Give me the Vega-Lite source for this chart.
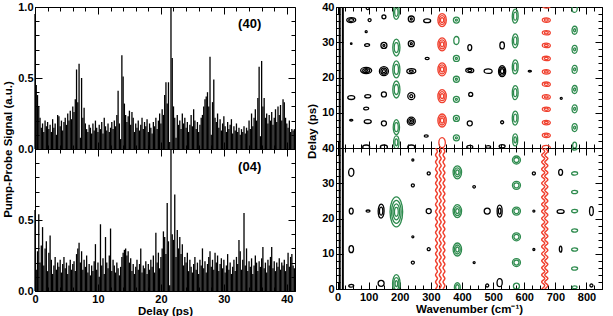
{
"$schema":"https://vega.github.io/schema/vega-lite/v6.json",
"padding":{"left":2,"top":0,"right":4,"bottom":0},
"background":"white",
"config":{"view":{"stroke":"black","strokeWidth":1},"font":"Liberation Sans",
"axis":{"labelFont":"Liberation Sans","labelFontWeight":"bold","labelFontSize":11,"labelColor":"black","titleFont":"Liberation Sans","titleFontWeight":"bold","titleFontSize":11.5,"titleColor":"black","domainColor":"black","tickColor":"black","grid":false,"labelFlush":false,"labelOverlap":false,"labelBound":false,"tickWidth":1,"labelPadding":9}},
"datasets":{
"p40":[{"t":0,"s":0.95},{"t":0.2,"s":0.45},{"t":0.4,"s":0.38},{"t":0.6,"s":0.3},{"t":0.8,"s":0.22},{"t":1,"s":0.15},{"t":1.2,"s":0.18},{"t":1.4,"s":0.12},{"t":1.6,"s":0.2},{"t":1.8,"s":0.16},
{"t":2,"s":0.19},{"t":2.2,"s":0.14},{"t":2.4,"s":0.17},{"t":2.6,"s":0.12},{"t":2.8,"s":0.21},{"t":3,"s":0.15},{"t":3.2,"s":0.18},{"t":3.4,"s":0.1},{"t":3.6,"s":0.24},{"t":3.8,"s":0.23},
{"t":4,"s":0.16},{"t":4.2,"s":0.2},{"t":4.4,"s":0.13},{"t":4.6,"s":0.19},{"t":4.8,"s":0.22},{"t":5,"s":0.17},{"t":5.2,"s":0.25},{"t":5.4,"s":0.2},{"t":5.6,"s":0.27},{"t":5.8,"s":0.21},
{"t":6,"s":0.3},{"t":6.2,"s":0.26},{"t":6.4,"s":0.35},{"t":6.6,"s":0.56},{"t":6.8,"s":0.33},{"t":7,"s":0.6},{"t":7.2,"s":0.08},{"t":7.4,"s":0.5},{"t":7.6,"s":0.22},{"t":7.8,"s":0.29},
{"t":8,"s":0.18},{"t":8.2,"s":0.14},{"t":8.4,"s":0.12},{"t":8.6,"s":0.17},{"t":8.8,"s":0.15},{"t":9,"s":0.11},{"t":9.2,"s":0.18},{"t":9.4,"s":0.13},{"t":9.6,"s":0.2},{"t":9.8,"s":0.15},
{"t":10,"s":0.12},{"t":10.2,"s":0.17},{"t":10.4,"s":0.14},{"t":10.6,"s":0.19},{"t":10.8,"s":0.11},{"t":11,"s":0.22},{"t":11.2,"s":0.16},{"t":11.4,"s":0.13},{"t":11.6,"s":0.18},{"t":11.8,"s":0.12},
{"t":12,"s":0.15},{"t":12.2,"s":0.19},{"t":12.4,"s":0.14},{"t":12.6,"s":0.2},{"t":12.8,"s":0.16},{"t":13,"s":0.24},{"t":13.2,"s":0.41},{"t":13.4,"s":0.18},{"t":13.6,"s":0.07},{"t":13.8,"s":0.66},
{"t":14,"s":0.51},{"t":14.2,"s":0.32},{"t":14.4,"s":0.24},{"t":14.6,"s":0.19},{"t":14.8,"s":0.23},{"t":15,"s":0.27},{"t":15.2,"s":0.17},{"t":15.4,"s":0.26},{"t":15.6,"s":0.22},{"t":15.8,"s":0.12},
{"t":16,"s":0.18},{"t":16.2,"s":0.15},{"t":16.4,"s":0.2},{"t":16.6,"s":0.13},{"t":16.8,"s":0.17},{"t":17,"s":0.22},{"t":17.2,"s":0.14},{"t":17.4,"s":0.19},{"t":17.6,"s":0.16},{"t":17.8,"s":0.21},
{"t":18,"s":0.12},{"t":18.2,"s":0.18},{"t":18.4,"s":0.15},{"t":18.6,"s":0.11},{"t":18.8,"s":0.19},{"t":19,"s":0.16},{"t":19.2,"s":0.22},{"t":19.4,"s":0.14},{"t":19.6,"s":0.2},{"t":19.8,"s":0.25},
{"t":20,"s":0.18},{"t":20.2,"s":0.28},{"t":20.4,"s":0.24},{"t":20.6,"s":0.38},{"t":20.8,"s":0.47},{"t":21,"s":0.32},{"t":21.2,"s":0.47},{"t":21.4,"s":0.05},{"t":21.6,"s":1.0},{"t":21.8,"s":0.64},
{"t":22,"s":0.3},{"t":22.2,"s":0.22},{"t":22.4,"s":0.08},{"t":22.6,"s":0.24},{"t":22.8,"s":0.17},{"t":23,"s":0.2},{"t":23.2,"s":0.14},{"t":23.4,"s":0.25},{"t":23.6,"s":0.18},{"t":23.8,"s":0.22},
{"t":24,"s":0.15},{"t":24.2,"s":0.19},{"t":24.4,"s":0.12},{"t":24.6,"s":0.17},{"t":24.8,"s":0.24},{"t":25,"s":0.16},{"t":25.2,"s":0.28},{"t":25.4,"s":0.2},{"t":25.6,"s":0.14},{"t":25.8,"s":0.19},
{"t":26,"s":0.12},{"t":26.2,"s":0.17},{"t":26.4,"s":0.22},{"t":26.6,"s":0.24},{"t":26.8,"s":0.3},{"t":27,"s":0.35},{"t":27.2,"s":0.37},{"t":27.4,"s":0.4},{"t":27.6,"s":0.3},{"t":27.8,"s":0.65},
{"t":28,"s":0.1},{"t":28.2,"s":0.33},{"t":28.4,"s":0.49},{"t":28.6,"s":0.22},{"t":28.8,"s":0.19},{"t":29,"s":0.25},{"t":29.2,"s":0.15},{"t":29.4,"s":0.21},{"t":29.6,"s":0.13},{"t":29.8,"s":0.18},
{"t":30,"s":0.23},{"t":30.2,"s":0.16},{"t":30.4,"s":0.12},{"t":30.6,"s":0.19},{"t":30.8,"s":0.14},{"t":31,"s":0.17},{"t":31.2,"s":0.21},{"t":31.4,"s":0.11},{"t":31.6,"s":0.16},{"t":31.8,"s":0.13},
{"t":32,"s":0.18},{"t":32.2,"s":0.12},{"t":32.4,"s":0.15},{"t":32.6,"s":0.1},{"t":32.8,"s":0.14},{"t":33,"s":0.12},{"t":33.2,"s":0.16},{"t":33.4,"s":0.11},{"t":33.6,"s":0.15},{"t":33.8,"s":0.13},
{"t":34,"s":0.2},{"t":34.2,"s":0.14},{"t":34.4,"s":0.25},{"t":34.6,"s":0.16},{"t":34.8,"s":0.22},{"t":35,"s":0.28},{"t":35.2,"s":0.2},{"t":35.4,"s":0.36},{"t":35.6,"s":0.58},{"t":35.8,"s":0.09},
{"t":36,"s":0.62},{"t":36.2,"s":0.3},{"t":36.4,"s":0.36},{"t":36.6,"s":0.22},{"t":36.8,"s":0.25},{"t":37,"s":0.18},{"t":37.2,"s":0.24},{"t":37.4,"s":0.2},{"t":37.6,"s":0.26},{"t":37.8,"s":0.17},
{"t":38,"s":0.22},{"t":38.2,"s":0.28},{"t":38.4,"s":0.19},{"t":38.6,"s":0.3},{"t":38.8,"s":0.24},{"t":39,"s":0.31},{"t":39.2,"s":0.2},{"t":39.4,"s":0.35},{"t":39.6,"s":0.33},{"t":39.8,"s":0.22},
{"t":40,"s":0.18},{"t":40.2,"s":0.15},{"t":40.4,"s":0.2},{"t":40.6,"s":0.12},{"t":40.8,"s":0.14},{"t":41,"s":0.13},{"t":41.2,"s":0.14}],
"p04":[{"t":0,"s":0.57},{"t":0.2,"s":0.15},{"t":0.4,"s":0.28},{"t":0.6,"s":0.54},{"t":0.8,"s":0.2},{"t":1,"s":0.32},{"t":1.2,"s":0.45},{"t":1.4,"s":0.18},{"t":1.6,"s":0.3},{"t":1.8,"s":0.35},
{"t":2,"s":0.14},{"t":2.2,"s":0.27},{"t":2.4,"s":0.39},{"t":2.6,"s":0.22},{"t":2.8,"s":0.12},{"t":3,"s":0.18},{"t":3.2,"s":0.24},{"t":3.4,"s":0.15},{"t":3.6,"s":0.2},{"t":3.8,"s":0.17},
{"t":4,"s":0.22},{"t":4.2,"s":0.13},{"t":4.4,"s":0.19},{"t":4.6,"s":0.24},{"t":4.8,"s":0.16},{"t":5,"s":0.2},{"t":5.2,"s":0.12},{"t":5.4,"s":0.18},{"t":5.6,"s":0.22},{"t":5.8,"s":0.15},
{"t":6,"s":0.19},{"t":6.2,"s":0.21},{"t":6.4,"s":0.14},{"t":6.6,"s":0.26},{"t":6.8,"s":0.3},{"t":7,"s":0.34},{"t":7.2,"s":0.2},{"t":7.4,"s":0.28},{"t":7.6,"s":0.15},{"t":7.8,"s":0.22},
{"t":8,"s":0.17},{"t":8.2,"s":0.25},{"t":8.4,"s":0.13},{"t":8.6,"s":0.19},{"t":8.8,"s":0.11},{"t":9,"s":0.18},{"t":9.2,"s":0.14},{"t":9.4,"s":0.21},{"t":9.6,"s":0.33},{"t":9.8,"s":0.15},
{"t":10,"s":0.2},{"t":10.2,"s":0.1},{"t":10.4,"s":0.47},{"t":10.6,"s":0.18},{"t":10.8,"s":0.23},{"t":11,"s":0.12},{"t":11.2,"s":0.38},{"t":11.4,"s":0.2},{"t":11.6,"s":0.16},{"t":11.8,"s":0.25},
{"t":12,"s":0.44},{"t":12.2,"s":0.14},{"t":12.4,"s":0.22},{"t":12.6,"s":0.18},{"t":12.8,"s":0.13},{"t":13,"s":0.2},{"t":13.2,"s":0.16},{"t":13.4,"s":0.11},{"t":13.6,"s":0.17},{"t":13.8,"s":0.24},
{"t":14,"s":0.27},{"t":14.2,"s":0.29},{"t":14.4,"s":0.3},{"t":14.6,"s":0.25},{"t":14.8,"s":0.28},{"t":15,"s":0.2},{"t":15.2,"s":0.23},{"t":15.4,"s":0.14},{"t":15.6,"s":0.19},{"t":15.8,"s":0.12},
{"t":16,"s":0.17},{"t":16.2,"s":0.22},{"t":16.4,"s":0.15},{"t":16.6,"s":0.19},{"t":16.8,"s":0.3},{"t":17,"s":0.13},{"t":17.2,"s":0.18},{"t":17.4,"s":0.16},{"t":17.6,"s":0.21},{"t":17.8,"s":0.12},
{"t":18,"s":0.19},{"t":18.2,"s":0.15},{"t":18.4,"s":0.22},{"t":18.6,"s":0.17},{"t":18.8,"s":0.25},{"t":19,"s":0.13},{"t":19.2,"s":0.41},{"t":19.4,"s":0.2},{"t":19.6,"s":0.27},{"t":19.8,"s":0.16},
{"t":20,"s":0.24},{"t":20.2,"s":0.3},{"t":20.4,"s":0.42},{"t":20.6,"s":0.38},{"t":20.8,"s":0.26},{"t":21,"s":0.62},{"t":21.2,"s":0.35},{"t":21.4,"s":0.04},{"t":21.6,"s":1.0},{"t":21.8,"s":0.4},
{"t":22,"s":0.36},{"t":22.2,"s":0.68},{"t":22.4,"s":0.24},{"t":22.6,"s":0.43},{"t":22.8,"s":0.3},{"t":23,"s":0.38},{"t":23.2,"s":0.26},{"t":23.4,"s":0.33},{"t":23.6,"s":0.18},{"t":23.8,"s":0.24},
{"t":24,"s":0.2},{"t":24.2,"s":0.27},{"t":24.4,"s":0.14},{"t":24.6,"s":0.22},{"t":24.8,"s":0.17},{"t":25,"s":0.13},{"t":25.2,"s":0.19},{"t":25.4,"s":0.24},{"t":25.6,"s":0.15},{"t":25.8,"s":0.2},
{"t":26,"s":0.12},{"t":26.2,"s":0.22},{"t":26.4,"s":0.18},{"t":26.6,"s":0.3},{"t":26.8,"s":0.16},{"t":27,"s":0.21},{"t":27.2,"s":0.13},{"t":27.4,"s":0.19},{"t":27.6,"s":0.24},{"t":27.8,"s":0.28},
{"t":28,"s":0.17},{"t":28.2,"s":0.22},{"t":28.4,"s":0.15},{"t":28.6,"s":0.27},{"t":28.8,"s":0.2},{"t":29,"s":0.25},{"t":29.2,"s":0.14},{"t":29.4,"s":0.19},{"t":29.6,"s":0.23},{"t":29.8,"s":0.16},
{"t":30,"s":0.22},{"t":30.2,"s":0.13},{"t":30.4,"s":0.18},{"t":30.6,"s":0.26},{"t":30.8,"s":0.15},{"t":31,"s":0.2},{"t":31.2,"s":0.12},{"t":31.4,"s":0.17},{"t":31.6,"s":0.22},{"t":31.8,"s":0.14},
{"t":32,"s":0.24},{"t":32.2,"s":0.19},{"t":32.4,"s":0.36},{"t":32.6,"s":0.28},{"t":32.8,"s":0.15},{"t":33,"s":0.22},{"t":33.2,"s":0.55},{"t":33.4,"s":0.18},{"t":33.6,"s":0.3},{"t":33.8,"s":0.14},
{"t":34,"s":0.21},{"t":34.2,"s":0.17},{"t":34.4,"s":0.23},{"t":34.6,"s":0.12},{"t":34.8,"s":0.18},{"t":35,"s":0.25},{"t":35.2,"s":0.2},{"t":35.4,"s":0.14},{"t":35.6,"s":0.21},{"t":35.8,"s":0.17},
{"t":36,"s":0.23},{"t":36.2,"s":0.31},{"t":36.4,"s":0.16},{"t":36.6,"s":0.2},{"t":36.8,"s":0.13},{"t":37,"s":0.22},{"t":37.2,"s":0.18},{"t":37.4,"s":0.24},{"t":37.6,"s":0.31},{"t":37.8,"s":0.16},
{"t":38,"s":0.21},{"t":38.2,"s":0.14},{"t":38.4,"s":0.2},{"t":38.6,"s":0.17},{"t":38.8,"s":0.23},{"t":39,"s":0.15},{"t":39.2,"s":0.2},{"t":39.4,"s":0.18},{"t":39.6,"s":0.22},{"t":39.8,"s":0.14},
{"t":40,"s":0.19},{"t":40.2,"s":0.27},{"t":40.4,"s":0.17},{"t":40.6,"s":0.24},{"t":40.8,"s":0.26},{"t":41,"s":0.18},{"t":41.2,"s":0.16}],
"ct":[
{"w":44,"d":36.3,"c":"k","s":"h","a":9},{"w":44,"d":36.3,"c":"k","s":"h","a":5},{"w":103,"d":36.3,"c":"k","s":"c","a":3},{"w":149,"d":37.2,"c":"k","s":"c","a":4},
{"w":237,"d":36.6,"c":"k","s":"c","a":6},{"w":237,"d":36.6,"c":"k","s":"c","a":2},{"w":288,"d":36.1,"c":"k","s":"h","a":7},{"w":97,"d":39.7,"c":"k","s":"c","a":3},
{"w":92,"d":33,"c":"k","s":"c","a":2},{"w":44,"d":29.6,"c":"k","s":"c","a":1.5},{"w":95,"d":29.2,"c":"k","s":"h","a":5},{"w":149,"d":29.1,"c":"k","s":"c","a":6},{"w":149,"d":29.1,"c":"k","s":"c","a":2},
{"w":237,"d":29.6,"c":"k","s":"c","a":6},{"w":237,"d":29.6,"c":"k","s":"c","a":2},{"w":288,"d":25.4,"c":"k","s":"h","a":4},{"w":425,"d":28.5,"c":"k","s":"v","a":6},{"w":529,"d":29.1,"c":"k","s":"v","a":7},
{"w":92,"d":22,"c":"k","s":"h","a":11},{"w":92,"d":22,"c":"k","s":"h","a":7},{"w":92,"d":22,"c":"k","s":"h","a":3},
{"w":149,"d":21.8,"c":"k","s":"c","a":9},{"w":149,"d":21.8,"c":"k","s":"c","a":6},{"w":149,"d":21.8,"c":"k","s":"c","a":3},
{"w":237,"d":21.8,"c":"k","s":"h","a":9},{"w":237,"d":21.8,"c":"k","s":"h","a":4},{"w":425,"d":22,"c":"k","s":"h","a":8},{"w":425,"d":22,"c":"k","s":"h","a":4},
{"w":484,"d":21.8,"c":"k","s":"h","a":8},{"w":529,"d":21.8,"c":"k","s":"v","a":11},{"w":529,"d":21.8,"c":"k","s":"v","a":8},{"w":529,"d":21.8,"c":"k","s":"v","a":5},{"w":618,"d":21.8,"c":"k","s":"h","a":3},
{"w":44,"d":14.3,"c":"k","s":"h","a":7},{"w":97,"d":14.7,"c":"k","s":"h","a":6},{"w":149,"d":15.2,"c":"k","s":"c","a":5},{"w":237,"d":14.7,"c":"k","s":"c","a":7},{"w":237,"d":14.7,"c":"k","s":"c","a":3},
{"w":428,"d":15.2,"c":"k","s":"c","a":4},{"w":719,"d":14.1,"c":"k","s":"c","a":2},{"w":92,"d":11.2,"c":"k","s":"h","a":5},{"w":44,"d":7.9,"c":"k","s":"h","a":3},{"w":97,"d":7.5,"c":"k","s":"h","a":7},
{"w":149,"d":7,"c":"k","s":"c","a":5},{"w":237,"d":7.6,"c":"k","s":"c","a":8},{"w":237,"d":7.6,"c":"k","s":"c","a":5},{"w":237,"d":7.6,"c":"k","s":"c","a":2},{"w":425,"d":7,"c":"k","s":"c","a":5},{"w":529,"d":7.3,"c":"k","s":"c","a":3},
{"w":285,"d":3.4,"c":"k","s":"h","a":4},{"w":92,"d":0.3,"c":"k","s":"h","a":7},{"w":149,"d":0.3,"c":"k","s":"h","a":7},{"w":237,"d":0.3,"c":"k","s":"h","a":7},{"w":425,"d":0.3,"c":"k","s":"h","a":6},{"w":484,"d":0.3,"c":"k","s":"h","a":5},{"w":529,"d":0.5,"c":"k","s":"h","a":6},
{"w":189,"d":38.5,"c":"g","s":"t","a":14},{"w":189,"d":38.5,"c":"g","s":"t","a":8},{"w":189,"d":28.5,"c":"g","s":"t","a":17},{"w":189,"d":28.5,"c":"g","s":"t","a":10},
{"w":189,"d":22.3,"c":"g","s":"t","a":17},{"w":189,"d":22.3,"c":"g","s":"t","a":10},{"w":189,"d":16.6,"c":"g","s":"t","a":17},{"w":189,"d":16.6,"c":"g","s":"t","a":10},
{"w":189,"d":5.9,"c":"g","s":"t","a":15},{"w":189,"d":5.9,"c":"g","s":"t","a":9},{"w":189,"d":1.6,"c":"g","s":"t","a":13},{"w":189,"d":1.6,"c":"g","s":"t","a":7},
{"w":382,"d":36.3,"c":"g","s":"c","a":6},{"w":382,"d":36.3,"c":"g","s":"c","a":2},{"w":382,"d":30.5,"c":"g","s":"v","a":8},{"w":382,"d":25.4,"c":"g","s":"c","a":6},{"w":382,"d":25.4,"c":"g","s":"c","a":2},
{"w":382,"d":19.5,"c":"g","s":"c","a":6},{"w":382,"d":19.5,"c":"g","s":"c","a":2},{"w":382,"d":13.8,"c":"g","s":"c","a":6},{"w":382,"d":13.8,"c":"g","s":"c","a":2},
{"w":382,"d":8.4,"c":"g","s":"c","a":6},{"w":382,"d":8.4,"c":"g","s":"c","a":2},{"w":382,"d":2.9,"c":"g","s":"c","a":6},{"w":382,"d":2.9,"c":"g","s":"c","a":2},
{"w":571,"d":37.4,"c":"g","s":"t","a":14},{"w":571,"d":37.4,"c":"g","s":"t","a":8},{"w":571,"d":30.4,"c":"g","s":"t","a":14},{"w":571,"d":30.4,"c":"g","s":"t","a":8},
{"w":571,"d":23,"c":"g","s":"t","a":14},{"w":571,"d":23,"c":"g","s":"t","a":8},{"w":571,"d":15.7,"c":"g","s":"t","a":14},{"w":571,"d":15.7,"c":"g","s":"t","a":8},
{"w":571,"d":8.5,"c":"g","s":"t","a":14},{"w":571,"d":8.5,"c":"g","s":"t","a":8},{"w":571,"d":2.3,"c":"g","s":"t","a":12},{"w":571,"d":2.3,"c":"g","s":"t","a":6},
{"w":762,"d":39.6,"c":"g","s":"v","a":8},{"w":762,"d":33.4,"c":"g","s":"v","a":8},{"w":762,"d":33.4,"c":"g","s":"v","a":3},{"w":762,"d":28,"c":"g","s":"v","a":8},{"w":762,"d":28,"c":"g","s":"v","a":3},
{"w":762,"d":22.3,"c":"g","s":"v","a":8},{"w":762,"d":22.3,"c":"g","s":"v","a":3},{"w":762,"d":16.6,"c":"g","s":"v","a":8},{"w":762,"d":16.6,"c":"g","s":"v","a":3},
{"w":762,"d":11.1,"c":"g","s":"v","a":8},{"w":762,"d":11.1,"c":"g","s":"v","a":3},{"w":762,"d":5.8,"c":"g","s":"v","a":8},{"w":762,"d":5.8,"c":"g","s":"v","a":3},{"w":762,"d":0.8,"c":"g","s":"v","a":6},
{"w":336,"d":36.3,"c":"r","s":"v","a":13},{"w":336,"d":36.3,"c":"r","s":"v","a":9},{"w":336,"d":36.3,"c":"r","s":"v","a":5},
{"w":336,"d":29.4,"c":"r","s":"v","a":13},{"w":336,"d":29.4,"c":"r","s":"v","a":9},{"w":336,"d":29.4,"c":"r","s":"v","a":5},
{"w":336,"d":22.3,"c":"r","s":"v","a":13},{"w":336,"d":22.3,"c":"r","s":"v","a":9},{"w":336,"d":22.3,"c":"r","s":"v","a":5},
{"w":336,"d":14.7,"c":"r","s":"v","a":13},{"w":336,"d":14.7,"c":"r","s":"v","a":9},{"w":336,"d":14.7,"c":"r","s":"v","a":5},
{"w":336,"d":7.8,"c":"r","s":"v","a":13},{"w":336,"d":7.8,"c":"r","s":"v","a":9},{"w":336,"d":7.8,"c":"r","s":"v","a":5},{"w":336,"d":1.5,"c":"r","s":"v","a":10},
{"w":671,"d":40.3,"c":"r","s":"h","a":8},{"w":671,"d":36.3,"c":"r","s":"h","a":8},{"w":671,"d":36.3,"c":"r","s":"h","a":4},{"w":671,"d":32.7,"c":"r","s":"h","a":8},{"w":671,"d":32.7,"c":"r","s":"h","a":4},
{"w":671,"d":29.1,"c":"r","s":"h","a":8},{"w":671,"d":29.1,"c":"r","s":"h","a":4},{"w":671,"d":25.4,"c":"r","s":"h","a":8},{"w":671,"d":25.4,"c":"r","s":"h","a":4},
{"w":671,"d":21.6,"c":"r","s":"h","a":8},{"w":671,"d":21.6,"c":"r","s":"h","a":4},{"w":671,"d":18.1,"c":"r","s":"h","a":8},{"w":671,"d":18.1,"c":"r","s":"h","a":4},
{"w":671,"d":14.5,"c":"r","s":"h","a":8},{"w":671,"d":14.5,"c":"r","s":"h","a":4},{"w":671,"d":11,"c":"r","s":"h","a":8},{"w":671,"d":11,"c":"r","s":"h","a":4},
{"w":671,"d":7.2,"c":"r","s":"h","a":8},{"w":671,"d":7.2,"c":"r","s":"h","a":4},{"w":671,"d":3.6,"c":"r","s":"h","a":8},{"w":671,"d":3.6,"c":"r","s":"h","a":4},{"w":671,"d":0.1,"c":"r","s":"h","a":8}],
"cb":[
{"w":189,"d":21.9,"c":"g","s":"t","a":30},{"w":189,"d":21.9,"c":"g","s":"t","a":23},{"w":189,"d":21.9,"c":"g","s":"t","a":16},{"w":189,"d":21.9,"c":"g","s":"t","a":9},
{"w":189,"d":1.5,"c":"g","s":"t","a":18},{"w":189,"d":1.5,"c":"g","s":"t","a":12},{"w":189,"d":1.5,"c":"g","s":"t","a":6},
{"w":385,"d":33.1,"c":"g","s":"v","a":13},{"w":385,"d":33.1,"c":"g","s":"v","a":9},{"w":385,"d":33.1,"c":"g","s":"v","a":5},
{"w":385,"d":22.1,"c":"g","s":"v","a":13},{"w":385,"d":22.1,"c":"g","s":"v","a":9},{"w":385,"d":22.1,"c":"g","s":"v","a":5},
{"w":385,"d":11.2,"c":"g","s":"v","a":13},{"w":385,"d":11.2,"c":"g","s":"v","a":9},{"w":385,"d":11.2,"c":"g","s":"v","a":5},
{"w":385,"d":0.5,"c":"g","s":"v","a":9},{"w":385,"d":0.5,"c":"g","s":"v","a":5},
{"w":575,"d":36.6,"c":"g","s":"c","a":8},{"w":575,"d":36.6,"c":"g","s":"c","a":5},{"w":575,"d":29.4,"c":"g","s":"c","a":8},{"w":575,"d":29.4,"c":"g","s":"c","a":5},
{"w":575,"d":22.1,"c":"g","s":"c","a":8},{"w":575,"d":22.1,"c":"g","s":"c","a":5},{"w":575,"d":14.8,"c":"g","s":"c","a":8},{"w":575,"d":14.8,"c":"g","s":"c","a":5},
{"w":575,"d":7.5,"c":"g","s":"c","a":8},{"w":575,"d":7.5,"c":"g","s":"c","a":5},{"w":575,"d":0.8,"c":"g","s":"c","a":6},
{"w":762,"d":39.8,"c":"g","s":"h","a":5},{"w":762,"d":32.8,"c":"g","s":"h","a":6},{"w":762,"d":27.5,"c":"g","s":"h","a":6},{"w":762,"d":22.1,"c":"g","s":"h","a":6},
{"w":762,"d":16.6,"c":"g","s":"h","a":6},{"w":762,"d":11.2,"c":"g","s":"h","a":6},{"w":762,"d":5.8,"c":"g","s":"h","a":6},{"w":762,"d":0.5,"c":"g","s":"h","a":5},
{"w":44,"d":33.1,"c":"k","s":"v","a":8},{"w":44,"d":22.1,"c":"k","s":"v","a":6},{"w":44,"d":11.3,"c":"k","s":"v","a":7},{"w":44,"d":0.9,"c":"k","s":"h","a":5},
{"w":98,"d":22.1,"c":"k","s":"h","a":4},{"w":140,"d":22.1,"c":"k","s":"t","a":14},{"w":140,"d":22.1,"c":"k","s":"t","a":8},{"w":140,"d":1.6,"c":"k","s":"c","a":6},
{"w":242,"d":36.6,"c":"k","s":"c","a":2},{"w":242,"d":29.4,"c":"k","s":"c","a":3},{"w":242,"d":14.8,"c":"k","s":"c","a":2},{"w":242,"d":7.5,"c":"k","s":"c","a":3},
{"w":293,"d":32.8,"c":"k","s":"c","a":3},{"w":293,"d":22.1,"c":"k","s":"c","a":5},{"w":293,"d":11.3,"c":"k","s":"c","a":3},
{"w":439,"d":29,"c":"k","s":"c","a":2.5},{"w":439,"d":7.5,"c":"k","s":"c","a":2},{"w":481,"d":22.1,"c":"k","s":"c","a":6},{"w":481,"d":1,"c":"k","s":"c","a":3},
{"w":521,"d":22.1,"c":"k","s":"t","a":12},{"w":521,"d":22.1,"c":"k","s":"t","a":6},{"w":521,"d":1.8,"c":"k","s":"v","a":8},
{"w":631,"d":32.8,"c":"k","s":"c","a":3},{"w":631,"d":22.1,"c":"k","s":"c","a":2},{"w":631,"d":11.2,"c":"k","s":"c","a":2},
{"w":717,"d":33.1,"c":"k","s":"v","a":6},{"w":717,"d":22,"c":"k","s":"h","a":7},{"w":717,"d":11.3,"c":"k","s":"t","a":6},
{"w":816,"d":22.1,"c":"k","s":"t","a":9},{"w":816,"d":1,"c":"k","s":"c","a":3}],
"vl":[{"w":7},{"w":17}],
"wv":[
{"g":"a","w":315,"d":0},{"g":"a","w":321,"d":1},{"g":"a","w":315,"d":2},{"g":"a","w":321,"d":3},{"g":"a","w":315,"d":4},{"g":"a","w":321,"d":5},{"g":"a","w":315,"d":6},{"g":"a","w":321,"d":7},{"g":"a","w":315,"d":8},{"g":"a","w":321,"d":9},
{"g":"a","w":315,"d":10},{"g":"a","w":321,"d":11},{"g":"a","w":315,"d":12},{"g":"a","w":321,"d":13},{"g":"a","w":315,"d":14},{"g":"a","w":321,"d":15},{"g":"a","w":315,"d":16},{"g":"a","w":321,"d":17},{"g":"a","w":315,"d":18},{"g":"a","w":321,"d":19},
{"g":"a","w":315,"d":20},{"g":"a","w":321,"d":21},{"g":"a","w":315,"d":22},{"g":"a","w":321,"d":23},{"g":"a","w":315,"d":24},{"g":"a","w":321,"d":25},{"g":"a","w":315,"d":26},{"g":"a","w":321,"d":27},{"g":"a","w":315,"d":28},{"g":"a","w":321,"d":29},
{"g":"a","w":315,"d":30},{"g":"a","w":321,"d":31},{"g":"a","w":315,"d":32},{"g":"a","w":321,"d":33},{"g":"a","w":315,"d":34},{"g":"a","w":321,"d":35},{"g":"a","w":315,"d":36},{"g":"a","w":321,"d":37},{"g":"a","w":315,"d":38},{"g":"a","w":321,"d":39},{"g":"a","w":315,"d":40},
{"g":"b","w":327,"d":0},{"g":"b","w":333,"d":1},{"g":"b","w":327,"d":2},{"g":"b","w":333,"d":3},{"g":"b","w":327,"d":4},{"g":"b","w":333,"d":5},{"g":"b","w":327,"d":6},{"g":"b","w":333,"d":7},{"g":"b","w":327,"d":8},{"g":"b","w":333,"d":9},
{"g":"b","w":327,"d":10},{"g":"b","w":333,"d":11},{"g":"b","w":327,"d":12},{"g":"b","w":333,"d":13},{"g":"b","w":327,"d":14},{"g":"b","w":333,"d":15},{"g":"b","w":327,"d":16},{"g":"b","w":333,"d":17},{"g":"b","w":327,"d":18},{"g":"b","w":333,"d":19},
{"g":"b","w":327,"d":20},{"g":"b","w":333,"d":21},{"g":"b","w":327,"d":22},{"g":"b","w":333,"d":23},{"g":"b","w":327,"d":24},{"g":"b","w":333,"d":25},{"g":"b","w":327,"d":26},{"g":"b","w":333,"d":27},{"g":"b","w":327,"d":28},{"g":"b","w":333,"d":29},
{"g":"b","w":327,"d":30},{"g":"b","w":333,"d":31},{"g":"b","w":327,"d":32},{"g":"b","w":333,"d":33},{"g":"b","w":327,"d":34},{"g":"b","w":333,"d":35},{"g":"b","w":327,"d":36},{"g":"b","w":333,"d":37},{"g":"b","w":327,"d":38},{"g":"b","w":333,"d":39},{"g":"b","w":327,"d":40},
{"g":"c","w":339,"d":0},{"g":"c","w":345,"d":1},{"g":"c","w":339,"d":2},{"g":"c","w":345,"d":3},{"g":"c","w":339,"d":4},{"g":"c","w":345,"d":5},{"g":"c","w":339,"d":6},{"g":"c","w":345,"d":7},{"g":"c","w":339,"d":8},{"g":"c","w":345,"d":9},
{"g":"c","w":339,"d":10},{"g":"c","w":345,"d":11},{"g":"c","w":339,"d":12},{"g":"c","w":345,"d":13},{"g":"c","w":339,"d":14},{"g":"c","w":345,"d":15},{"g":"c","w":339,"d":16},{"g":"c","w":345,"d":17},{"g":"c","w":339,"d":18},{"g":"c","w":345,"d":19},
{"g":"c","w":339,"d":20},{"g":"c","w":345,"d":21},{"g":"c","w":339,"d":22},{"g":"c","w":345,"d":23},{"g":"c","w":339,"d":24},{"g":"c","w":345,"d":25},{"g":"c","w":339,"d":26},{"g":"c","w":345,"d":27},{"g":"c","w":339,"d":28},{"g":"c","w":345,"d":29},
{"g":"c","w":339,"d":30},{"g":"c","w":345,"d":31},{"g":"c","w":339,"d":32},{"g":"c","w":345,"d":33},{"g":"c","w":339,"d":34},{"g":"c","w":345,"d":35},{"g":"c","w":339,"d":36},{"g":"c","w":345,"d":37},{"g":"c","w":339,"d":38},{"g":"c","w":345,"d":39},{"g":"c","w":339,"d":40},
{"g":"d","w":656,"d":0},{"g":"d","w":666,"d":1},{"g":"d","w":656,"d":2},{"g":"d","w":666,"d":3},{"g":"d","w":656,"d":4},{"g":"d","w":666,"d":5},{"g":"d","w":656,"d":6},{"g":"d","w":666,"d":7},{"g":"d","w":656,"d":8},{"g":"d","w":666,"d":9},
{"g":"d","w":656,"d":10},{"g":"d","w":666,"d":11},{"g":"d","w":656,"d":12},{"g":"d","w":666,"d":13},{"g":"d","w":656,"d":14},{"g":"d","w":666,"d":15},{"g":"d","w":656,"d":16},{"g":"d","w":666,"d":17},{"g":"d","w":656,"d":18},{"g":"d","w":666,"d":19},
{"g":"d","w":656,"d":20},{"g":"d","w":666,"d":21},{"g":"d","w":656,"d":22},{"g":"d","w":666,"d":23},{"g":"d","w":656,"d":24},{"g":"d","w":666,"d":25},{"g":"d","w":656,"d":26},{"g":"d","w":666,"d":27},{"g":"d","w":656,"d":28},{"g":"d","w":666,"d":29},
{"g":"d","w":656,"d":30},{"g":"d","w":666,"d":31},{"g":"d","w":656,"d":32},{"g":"d","w":666,"d":33},{"g":"d","w":656,"d":34},{"g":"d","w":666,"d":35},{"g":"d","w":656,"d":36},{"g":"d","w":666,"d":37},{"g":"d","w":656,"d":38},{"g":"d","w":666,"d":39},{"g":"d","w":656,"d":40},
{"g":"e","w":666,"d":0},{"g":"e","w":676,"d":1},{"g":"e","w":666,"d":2},{"g":"e","w":676,"d":3},{"g":"e","w":666,"d":4},{"g":"e","w":676,"d":5},{"g":"e","w":666,"d":6},{"g":"e","w":676,"d":7},{"g":"e","w":666,"d":8},{"g":"e","w":676,"d":9},
{"g":"e","w":666,"d":10},{"g":"e","w":676,"d":11},{"g":"e","w":666,"d":12},{"g":"e","w":676,"d":13},{"g":"e","w":666,"d":14},{"g":"e","w":676,"d":15},{"g":"e","w":666,"d":16},{"g":"e","w":676,"d":17},{"g":"e","w":666,"d":18},{"g":"e","w":676,"d":19},
{"g":"e","w":666,"d":20},{"g":"e","w":676,"d":21},{"g":"e","w":666,"d":22},{"g":"e","w":676,"d":23},{"g":"e","w":666,"d":24},{"g":"e","w":676,"d":25},{"g":"e","w":666,"d":26},{"g":"e","w":676,"d":27},{"g":"e","w":666,"d":28},{"g":"e","w":676,"d":29},
{"g":"e","w":666,"d":30},{"g":"e","w":676,"d":31},{"g":"e","w":666,"d":32},{"g":"e","w":676,"d":33},{"g":"e","w":666,"d":34},{"g":"e","w":676,"d":35},{"g":"e","w":666,"d":36},{"g":"e","w":676,"d":37},{"g":"e","w":666,"d":38},{"g":"e","w":676,"d":39},{"g":"e","w":666,"d":40}],
"lab40":[{"t":34.1,"s":0.88,"txt":"(40)"}],
"lab04":[{"t":34.1,"s":0.87,"txt":"(04)"}]
},
"spacing":10,
"hconcat":[
{"spacing":0,"bounds":"flush","vconcat":[
{"width":260,"height":142,"resolve":{"axis":{"x":"independent","y":"independent"}},
"layer":[
{"data":{"name":"p40"},"mark":{"type":"rule","color":"black","strokeWidth":1.3},
"encoding":{"x":{"field":"t","type":"quantitative","scale":{"domain":[0,41.3],"nice":false,"zero":false},
"axis":{"orient":"bottom","title":null,"labels":false,"values":[0,2,4,6,8,10,12,14,16,18,20,22,24,26,28,30,32,34,36,38,40],"tickSize":{"condition":{"test":"datum.value % 10 === 0","value":-7},"value":-4}}},
"y":{"field":"s","type":"quantitative","scale":{"domain":[0,1],"nice":false},
"axis":{"orient":"left","title":null,"values":[0,0.1,0.2,0.3,0.4,0.5,0.6,0.7,0.8,0.9,1],"labelExpr":"round(datum.value*10) % 5 === 0 ? format(datum.value, '.1f') : ''","tickSize":{"condition":{"test":"round(datum.value*10) % 5 === 0","value":-7},"value":-4}}},
"y2":{"datum":0}}},
{"data":{"name":"lab40"},"mark":{"type":"text","font":"Liberation Sans","fontSize":13,"fontWeight":"bold","color":"black"},
"encoding":{"x":{"field":"t","type":"quantitative","axis":{"orient":"top","title":null,"labels":false,"domain":false,"values":[0,2,4,6,8,10,12,14,16,18,20,22,24,26,28,30,32,34,36,38,40],"tickSize":{"condition":{"test":"datum.value % 10 === 0","value":-7},"value":-4}}},
"y":{"field":"s","type":"quantitative","axis":{"orient":"right","title":null,"labels":false,"domain":false,"values":[0,0.1,0.2,0.3,0.4,0.5,0.6,0.7,0.8,0.9,1],"tickSize":{"condition":{"test":"round(datum.value*10) % 5 === 0","value":-7},"value":-4}}},
"text":{"field":"txt"}}}]},
{"width":260,"height":142,"resolve":{"axis":{"x":"independent","y":"independent"}},
"layer":[
{"data":{"name":"p04"},"mark":{"type":"rule","color":"black","strokeWidth":1.3},
"encoding":{"x":{"field":"t","type":"quantitative","scale":{"domain":[0,41.3],"nice":false,"zero":false},
"axis":{"orient":"bottom","title":"Delay (ps)","titlePadding":-2,"values":[0,2,4,6,8,10,12,14,16,18,20,22,24,26,28,30,32,34,36,38,40],"labelExpr":"datum.value % 10 === 0 ? datum.label : ''","tickSize":{"condition":{"test":"datum.value % 10 === 0","value":-7},"value":-4}}},
"y":{"field":"s","type":"quantitative","scale":{"domain":[0,1],"nice":false},
"axis":{"orient":"left","title":"Pump-Probe Signal (a.u.)","titleY":0,"values":[0,0.1,0.2,0.3,0.4,0.5,0.6,0.7,0.8,0.9,1],"labelExpr":"round(datum.value*10) % 5 === 0 && datum.value < 0.95 ? format(datum.value, '.1f') : ''","tickSize":{"condition":{"test":"round(datum.value*10) % 5 === 0","value":-7},"value":-4}}},
"y2":{"datum":0}}},
{"data":{"name":"lab04"},"mark":{"type":"text","font":"Liberation Sans","fontSize":13,"fontWeight":"bold","color":"black"},
"encoding":{"x":{"field":"t","type":"quantitative","axis":{"orient":"top","title":null,"labels":false,"domain":false,"values":[0,2,4,6,8,10,12,14,16,18,20,22,24,26,28,30,32,34,36,38,40],"tickSize":{"condition":{"test":"datum.value % 10 === 0","value":-7},"value":-4}}},
"y":{"field":"s","type":"quantitative","axis":{"orient":"right","title":null,"labels":false,"domain":false,"values":[0,0.1,0.2,0.3,0.4,0.5,0.6,0.7,0.8,0.9,1],"tickSize":{"condition":{"test":"round(datum.value*10) % 5 === 0","value":-7},"value":-4}}},
"text":{"field":"txt"}}}]}
]},
{"spacing":0,"bounds":"flush","vconcat":[
{"width":266,"height":141,"resolve":{"axis":{"x":"independent","y":"independent"}},
"layer":[
{"data":{"name":"ct"},"mark":{"type":"point","filled":false,"strokeWidth":1.3,"opacity":1,"clip":true},
"encoding":{"x":{"field":"w","type":"quantitative","scale":{"domain":[-5,850],"nice":false,"zero":false},
"axis":{"orient":"bottom","title":null,"labels":false,"values":[0,25,50,75,100,125,150,175,200,225,250,275,300,325,350,375,400,425,450,475,500,525,550,575,600,625,650,675,700,725,750,775,800,825,850],"tickSize":{"condition":{"test":"datum.value % 100 === 0","value":-7},"value":-4}}},
"y":{"field":"d","type":"quantitative","scale":{"domain":[0,40],"nice":false,"zero":false},
"axis":{"orient":"left","title":"Delay (ps)","titleY":124,"values":[0,2,4,6,8,10,12,14,16,18,20,22,24,26,28,30,32,34,36,38,40],"labelExpr":"datum.value % 10 === 0 && datum.value > 0 ? datum.label : ''","tickSize":{"condition":{"test":"datum.value % 10 === 0","value":-7},"value":-4}}},
"color":{"field":"c","type":"nominal","scale":{"domain":["k","g","r"],"range":["#000000","#2e8b4e","#f0402e"]},"legend":null},
"shape":{"field":"s","type":"nominal","scale":{"domain":["c","h","v","t"],"range":["circle","M -1 0 A 1 0.55 0 1 1 1 0 A 1 0.55 0 1 1 -1 0 Z","M 0 -1 A 0.65 1 0 1 1 0 1 A 0.65 1 0 1 1 0 -1 Z","M 0 -1 A 0.42 1 0 1 1 0 1 A 0.42 1 0 1 1 0 -1 Z"]},"legend":null},
"size":{"field":"a","type":"quantitative","scale":{"type":"pow","exponent":2,"domain":[0,30],"range":[0,900]},"legend":null}}},
{"data":{"name":"vl"},"mark":{"type":"rule","color":"black","strokeWidth":2},
"encoding":{"x":{"field":"w","type":"quantitative","axis":{"orient":"top","title":null,"labels":false,"domain":false,"values":[0,25,50,75,100,125,150,175,200,225,250,275,300,325,350,375,400,425,450,475,500,525,550,575,600,625,650,675,700,725,750,775,800,825,850],"tickSize":{"condition":{"test":"datum.value % 100 === 0","value":-7},"value":-4}}},
"y":{"datum":0,"type":"quantitative","axis":{"orient":"right","title":null,"labels":false,"domain":false,"values":[0,2,4,6,8,10,12,14,16,18,20,22,24,26,28,30,32,34,36,38,40],"tickSize":{"condition":{"test":"datum.value % 10 === 0","value":-7},"value":-4}}},
"y2":{"datum":40}}}]},
{"width":266,"height":141,"resolve":{"axis":{"x":"independent","y":"independent"}},
"layer":[
{"data":{"name":"cb"},"mark":{"type":"point","filled":false,"strokeWidth":1.3,"opacity":1,"clip":true},
"encoding":{"x":{"field":"w","type":"quantitative","scale":{"domain":[-5,850],"nice":false,"zero":false},
"axis":{"orient":"bottom","title":"Wavenumber (cm⁻¹)","titlePadding":-2,"values":[0,25,50,75,100,125,150,175,200,225,250,275,300,325,350,375,400,425,450,475,500,525,550,575,600,625,650,675,700,725,750,775,800,825,850],"labelExpr":"datum.value % 100 === 0 ? datum.label : ''","tickSize":{"condition":{"test":"datum.value % 100 === 0","value":-7},"value":-4}}},
"y":{"field":"d","type":"quantitative","scale":{"domain":[0,40],"nice":false,"zero":false},
"axis":{"orient":"left","title":null,"values":[0,2,4,6,8,10,12,14,16,18,20,22,24,26,28,30,32,34,36,38,40],"labelExpr":"datum.value % 10 === 0 ? datum.label : ''","tickSize":{"condition":{"test":"datum.value % 10 === 0","value":-7},"value":-4}}},
"color":{"field":"c","type":"nominal","scale":{"domain":["k","g","r"],"range":["#000000","#2e8b4e","#f0402e"]},"legend":null},
"shape":{"field":"s","type":"nominal","scale":{"domain":["c","h","v","t"],"range":["circle","M -1 0 A 1 0.55 0 1 1 1 0 A 1 0.55 0 1 1 -1 0 Z","M 0 -1 A 0.65 1 0 1 1 0 1 A 0.65 1 0 1 1 0 -1 Z","M 0 -1 A 0.42 1 0 1 1 0 1 A 0.42 1 0 1 1 0 -1 Z"]},"legend":null},
"size":{"field":"a","type":"quantitative","scale":{"type":"pow","exponent":2,"domain":[0,30],"range":[0,900]},"legend":null}}},
{"data":{"name":"vl"},"mark":{"type":"rule","color":"black","strokeWidth":2},
"encoding":{"x":{"field":"w","type":"quantitative","axis":{"orient":"top","title":null,"labels":false,"domain":false,"values":[0,25,50,75,100,125,150,175,200,225,250,275,300,325,350,375,400,425,450,475,500,525,550,575,600,625,650,675,700,725,750,775,800,825,850],"tickSize":{"condition":{"test":"datum.value % 100 === 0","value":-7},"value":-4}}},
"y":{"datum":0,"type":"quantitative","axis":{"orient":"right","title":null,"labels":false,"domain":false,"values":[0,2,4,6,8,10,12,14,16,18,20,22,24,26,28,30,32,34,36,38,40],"tickSize":{"condition":{"test":"datum.value % 10 === 0","value":-7},"value":-4}}},
"y2":{"datum":40}}},
{"data":{"name":"wv"},"mark":{"type":"line","color":"#f0402e","strokeWidth":1.5,"interpolate":"cardinal","clip":true},
"encoding":{"x":{"field":"w","type":"quantitative","axis":null},"y":{"field":"d","type":"quantitative","axis":null},"order":{"field":"d","type":"quantitative"},"detail":{"field":"g","type":"nominal"}}}]}
]}
]
}
